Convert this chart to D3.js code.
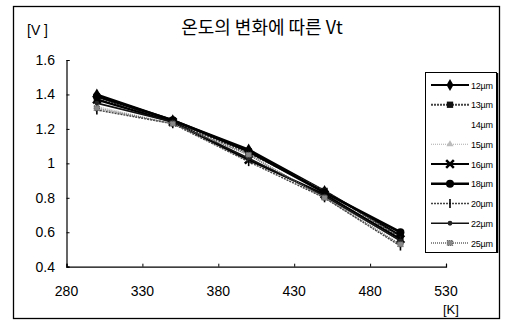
<!DOCTYPE html>
<html>
<head>
<meta charset="utf-8">
<script src="https://cdn.jsdelivr.net/npm/d3@7"></script>
<style>
  html, body { margin: 0; padding: 0; background: #fff; }
  svg { display: block; font-family: "Liberation Sans", Arial, sans-serif; }
</style>
</head>
<body>
<svg id="chart" width="512" height="321"></svg>
<script>
// Temperature sweep [K] and threshold voltage Vt [V] for each gate width
const temps = [300, 350, 400, 450, 500];
const seriesNames = ["12µm", "13µm", "14µm", "15µm", "16µm", "18µm", "20µm", "22µm", "25µm"];
const vt12 = [1.40, 1.25, 1.08, 0.84, 0.58];
const vt13 = [1.38, 1.24, 1.06, 0.84, 0.57];
const vt14 = [1.36, 1.24, 1.05, 0.82, 0.56];
const vt15 = [1.33, 1.23, 1.05, 0.80, 0.55];
const vt16 = [1.37, 1.24, 1.02, 0.82, 0.56];
const vt18 = [1.39, 1.25, 1.07, 0.83, 0.60];
const vt20 = [1.31, 1.23, 1.01, 0.80, 0.52];
const vt22 = [1.35, 1.24, 1.03, 0.81, 0.55];
const vt25 = [1.32, 1.23, 1.05, 0.80, 0.53];
const xTicks = [280, 330, 380, 430, 480, 530];
const yTicks = [0.4, 0.6, 0.8, 1.0, 1.2, 1.4, 1.6];
const yTickLabels = ["0.4", "0.6", "0.8", "1", "1.2", "1.4", "1.6"];

const seriesValues = [vt12, vt13, vt14, vt15, vt16, vt18, vt20, vt22, vt25];

// Visual style of each series: line stroke, width, dash, marker
const styles = [
  { stroke: "#000", width: 2.2, dash: null,  marker: "diamond", fill: "#000", size: 38 },
  { stroke: "#444", width: 1.8, dash: "2,1", marker: "square",  fill: "#111", size: 40 },
  { stroke: "none", width: 0,   dash: null,  marker: "none",    fill: "none", size: 0 },
  { stroke: "#aaa", width: 1.2, dash: "1,1", marker: "triangle",fill: "#bbb", size: 22 },
  { stroke: "#000", width: 2.2, dash: null,  marker: "cross",   fill: "#000", size: 40 },
  { stroke: "#000", width: 2.6, dash: null,  marker: "circle",  fill: "#000", size: 50 },
  { stroke: "#444", width: 1.5, dash: "2,1", marker: "plus",    fill: "#000", size: 30 },
  { stroke: "#111", width: 1.7, dash: null,  marker: "circle",  fill: "#222", size: 18 },
  { stroke: "#666", width: 1.5, dash: "1,1", marker: "hatch",   fill: "#888", size: 30 }
];

const svg = d3.select("#chart");

// Outer frame
svg.append("rect")
  .attr("x", 13.5).attr("y", 6.5).attr("width", 486).attr("height", 312)
  .attr("fill", "none").attr("stroke", "#000").attr("stroke-width", 1.3);

const x = d3.scaleLinear().domain([280, 530]).range([66.5, 446]);
const y = d3.scaleLinear().domain([0.4, 1.6]).range([266.7, 60]);

// Y axis with inward ticks
const yAxis = svg.append("g")
  .attr("transform", `translate(${x(280)},0)`)
  .call(d3.axisRight(y).tickValues(yTicks).tickSize(3).tickFormat(""));
yAxis.select(".domain").attr("stroke", "#000").attr("stroke-width", 1.2);
yAxis.selectAll(".tick line").attr("stroke", "#000");

svg.append("g").selectAll("text")
  .data(yTicks)
  .join("text")
  .attr("x", 55).attr("y", d => y(d) + 5)
  .attr("text-anchor", "end")
  .attr("font-size", 14)
  .text((d, i) => yTickLabels[i]);

// X axis with inward ticks
const xAxis = svg.append("g")
  .attr("transform", `translate(0,${y(0.4)})`)
  .call(d3.axisTop(x).tickValues(xTicks).tickSize(3).tickFormat(""));
xAxis.select(".domain").attr("stroke", "#000").attr("stroke-width", 1.2);
xAxis.selectAll(".tick line").attr("stroke", "#000");

svg.append("g").selectAll("text")
  .data(xTicks)
  .join("text")
  .attr("x", d => x(d)).attr("y", 296)
  .attr("text-anchor", "middle")
  .attr("font-size", 14)
  .text(d => d);

// Unit labels and title
svg.append("text").attr("x", 27).attr("y", 35).attr("font-size", 14).text("[V ]");
svg.append("text").attr("x", 443).attr("y", 314).attr("font-size", 13).text("[K]");
svg.append("text").attr("x", 262).attr("y", 34).attr("text-anchor", "middle")
  .attr("font-size", 18)
  .attr("font-family", "'Noto Sans CJK KR', 'Liberation Sans', sans-serif")
  .text("온도의 변화에 따른 Vt");

// Marker drawing
function drawMarker(g, st, cx, cy) {
  const s = Math.sqrt(st.size) / 2;
  switch (st.marker) {
    case "diamond":
      g.append("path").attr("d", d3.symbol(d3.symbolDiamond, st.size * 1.1)())
        .attr("transform", `translate(${cx},${cy})`).attr("fill", st.fill);
      break;
    case "square":
      g.append("path").attr("d", d3.symbol(d3.symbolSquare, st.size)())
        .attr("transform", `translate(${cx},${cy})`).attr("fill", st.fill);
      break;
    case "triangle":
      g.append("path").attr("d", d3.symbol(d3.symbolTriangle, st.size)())
        .attr("transform", `translate(${cx},${cy})`).attr("fill", st.fill);
      break;
    case "cross":
      g.append("path").attr("d", d3.symbol(d3.symbolX, st.size)())
        .attr("transform", `translate(${cx},${cy})`)
        .attr("stroke", "#000").attr("stroke-width", 2.5).attr("fill", "none");
      break;
    case "circle":
      g.append("path").attr("d", d3.symbol(d3.symbolCircle, st.size)())
        .attr("transform", `translate(${cx},${cy})`).attr("fill", st.fill);
      break;
    case "plus":
      g.append("line").attr("x1", cx).attr("x2", cx).attr("y1", cy - 4.5).attr("y2", cy + 4.5)
        .attr("stroke", "#000").attr("stroke-width", 1.6);
      break;
    case "hatch":
      g.append("rect").attr("x", cx - s).attr("y", cy - 2.5).attr("width", 2 * s).attr("height", 5)
        .attr("fill", st.fill).attr("stroke", "#555").attr("stroke-dasharray", "1,1");
      break;
  }
}

// Series lines and markers
const line = d3.line().x(d => x(d[0])).y(d => y(d[1]));
const plot = svg.append("g");
seriesValues.forEach((vals, i) => {
  const st = styles[i];
  const pts = temps.map((t, j) => [t, vals[j]]);
  if (st.stroke !== "none") {
    plot.append("path").datum(pts)
      .attr("d", line)
      .attr("fill", "none")
      .attr("stroke", st.stroke)
      .attr("stroke-width", st.width)
      .attr("stroke-dasharray", st.dash);
  }
  const mg = plot.append("g");
  pts.forEach(p => drawMarker(mg, st, x(p[0]), y(p[1])));
});

// Legend
const lg = svg.append("g");
lg.append("rect").attr("x", 425.5).attr("y", 72.5).attr("width", 71).attr("height", 180)
  .attr("fill", "#fff").attr("stroke", "#000").attr("stroke-width", 1);
lg.append("line").attr("x1", 497.5).attr("x2", 497.5).attr("y1", 73).attr("y2", 253)
  .attr("stroke", "#000").attr("stroke-width", 1.5);
const ly = d3.scalePoint().domain(seriesNames).range([85, 243]);
seriesNames.forEach((name, i) => {
  const st = styles[i];
  const cy = ly(name);
  if (st.stroke !== "none") {
    lg.append("line").attr("x1", 431).attr("x2", 469).attr("y1", cy).attr("y2", cy)
      .attr("stroke", st.stroke).attr("stroke-width", st.width)
      .attr("stroke-dasharray", st.dash);
  }
  drawMarker(lg, st, 450, cy);
  lg.append("text").attr("x", 471).attr("y", cy + 3.5)
    .attr("font-size", 9).attr("letter-spacing", -0.2).text(name);
});
</script>
</body>
</html>
